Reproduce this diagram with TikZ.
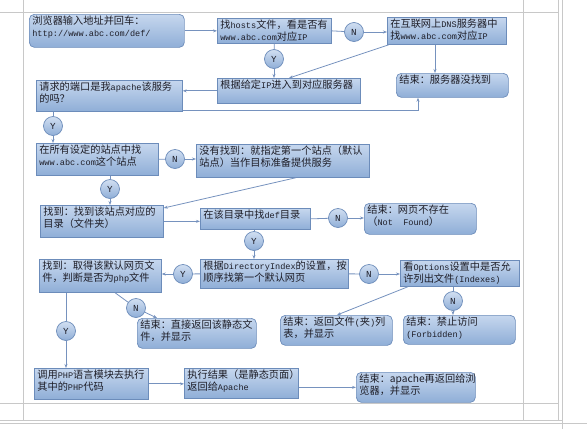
\documentclass[tikz,border=0pt]{standalone}
\usepackage{fontspec}
\setmainfont{Noto Sans CJK SC}
\newfontfamily\latf{Liberation Mono}[Scale=0.84]
\newcommand\ml[1]{{\latf #1}}
\usetikzlibrary{arrows.meta,calc,shadings}
\definecolor{boxtop}{RGB}{198,215,238}
\definecolor{boxbot}{RGB}{143,174,215}
\definecolor{boxline}{RGB}{108,140,186}
\definecolor{linec}{RGB}{118,146,190}
\definecolor{txt}{RGB}{30,30,40}
\definecolor{grid}{RGB}{200,200,200}
\tikzset{
  sqbox/.style={draw=boxline, line width=0.7pt, top color=boxtop, bottom color=boxbot, text=txt,
    font=\fontsize{10.2}{11.8}\selectfont},
  rdbox/.style={sqbox, rounded corners=5pt},
  yn/.style={circle, draw=boxline, line width=0.7pt, top color=boxtop!80!white, bottom color=boxbot,
    minimum size=19pt, inner sep=0pt, text=txt, font=\fontsize{11}{12}\latf},
  conn/.style={draw=linec, line width=0.8pt},
  arr/.style={conn, -{Stealth[length=4pt,width=3pt]}},
  gridl/.style={draw=grid, line width=0.7pt}
}
\newcommand\bx[7]{%
  \node[#2, anchor=north west, inner xsep=3pt, inner ysep=1.5pt] (#1) at (#3,#4)
  {\parbox[c][\dimexpr#6pt-3pt\relax][t]{\dimexpr#5pt-6pt\relax}{\raggedright #7}};}
\begin{document}
\begin{tikzpicture}[x=1pt,y=-1pt]
\useasboundingbox (0,0) rectangle (587,429);
% background table lines
\draw[gridl] (0,12) -- (558,12);
\draw[gridl] (23,0) -- (23,421);
\draw[gridl] (523,0) -- (523,421);
\draw[gridl] (558,0) -- (558,420);
\draw[gridl] (562,0) -- (562,429);
\draw[gridl] (0,403) -- (558,403);
\draw[gridl] (0,420) -- (562,420);
\draw[gridl] (0,423) -- (587,423);
% boxes
\bx{b1}{rdbox}{29}{14}{155}{33}{浏览器输入地址并回车：\\\ml{http://www.abc.com/def/}}
\bx{b2}{sqbox}{217}{18}{114}{25}{找\ml{hosts}文件，看是否有\\\ml{www.abc.com}对应\ml{IP}}
\bx{b3}{sqbox}{387}{17}{119}{27}{在互联网上\ml{DNS}服务器中\\找\ml{www.abc.com}对应\ml{IP}}
\bx{b4}{sqbox}{217}{78}{143}{25}{根据给定\ml{IP}进入到对应服务器}
\bx{b5}{rdbox}{396}{73}{112}{24}{结束：服务器没找到}
\bx{b6}{sqbox}{36}{80}{146}{31}{请求的端口是我\ml{apache}该服务\\的吗？}
\bx{b7}{sqbox}{36}{143}{122}{32}{在所有设定的站点中找\\\ml{www.abc.com}这个站点}
\bx{b8}{sqbox}{196}{144}{173}{33}{没有找到：就指定第一个站点（默认\\站点）当作目标准备提供服务}
\bx{b9}{sqbox}{40}{205}{123}{32}{找到：找到该站点对应的\\目录（文件夹）}
\bx{b10}{sqbox}{200}{208}{110}{21}{在该目录中找\ml{def}目录}
\bx{b11}{rdbox}{364}{203}{112}{31}{结束：网页不存在\\（\ml{Not\ \ Found}）}
\bx{b12}{sqbox}{39}{259}{122}{33}{找到：取得该默认网页文\\件，判断是否为\ml{php}文件}
\bx{b13}{sqbox}{200}{259}{148}{29}{根据\ml{DirectoryIndex}的设置，按\\顺序找第一个默认网页}
\bx{b14}{sqbox}{400}{260}{119}{26}{看\ml{Options}设置中是否允\\许列出文件\ml{(Indexes)}}
\bx{b15}{rdbox}{137}{318}{119}{30}{结束：直接返回该静态文\\件，并显示}
\bx{b16}{rdbox}{280}{315}{112}{30}{结束：返回文件\ml{(}夹\ml{)}列\\表，并显示}
\bx{b17}{rdbox}{403}{315}{112}{29}{结束：禁止访问\\\ml{(Forbidden)}}
\bx{b18}{sqbox}{34}{368}{114}{31}{调用\ml{PHP}语言模块去执行\\其中的\ml{PHP}代码}
\bx{b19}{sqbox}{184}{368}{114}{30}{执行结果（是静态页面）\\返回给\ml{Apache}}
\bx{b20}{rdbox}{356}{372}{119}{30}{结束：apache再返回给浏\\览器，并显示}
% decision circles
\node[yn] (n1) at (354,32) {N};
\node[yn] (y1) at (274,59) {Y};
\node[yn] (y2) at (53,126) {Y};
\node[yn] (n2) at (175,159) {N};
\node[yn] (y3) at (110,189) {Y};
\node[yn] (y4) at (254,241) {Y};
\node[yn] (n3) at (338,218) {N};
\node[yn] (y5) at (183,274) {Y};
\node[yn] (n4) at (369,274) {N};
\node[yn] (n5) at (136,308) {N};
\node[yn] (y6) at (66,331) {Y};
\node[yn] (n6) at (453,301) {N};
% connectors
\draw[arr] (b1.east) -- (b1.east -| b2.west);
\draw[conn] (b2.east) -- (n1);
\draw[arr] (n1) -- (n1 -| b3.west);
\draw[conn] (b2.south) -- (y1);
\draw[arr] (y1) -- (y1 |- b4.north);
\draw[arr] ($(b3.south west)+(2,0)$) -- ($(b4.north west)+(72,0)$);
\coordinate (d3) at ($(b3.south west)+(48,0)$);
\draw[arr] (d3) -- (d3 |- b5.north);
\draw[arr] (b4.west) -- (b4.west -| b6.east);
\coordinate (e5) at ($(b5.south west)+(22,0)$);
\draw[arr] ($(b6.south east)+(0,-1)$) -- ($(b6.south east -| e5)+(0,-1)$) -- (e5);
\draw[conn] (y2 |- b6.south) -- (y2);
\draw[arr] (y2) -- (y2 |- b7.north);
\draw[conn] (b7.east) -- (n2);
\draw[arr] (n2) -- (n2 -| b8.west);
\draw[conn] (y3 |- b7.south) -- (y3);
\draw[arr] (y3) -- (y3 |- b9.north);
\draw[arr] ($(b8.south west)+(100,0)$) -- ($(b9.north east)+(0,3)$);
\draw[arr] (b9.east) -- (b9.east -| b10.west);
\draw[conn] (b10.east) -- (n3);
\draw[arr] (n3) -- (n3 -| b11.west);
\draw[conn] (y4 |- b10.south) -- (y4);
\draw[arr] (y4) -- (y4 |- b13.north);
\draw[conn] (b13.west) -- (y5);
\draw[arr] (y5) -- (y5 -| b12.east);
\draw[conn] (b13.east) -- (n4);
\draw[arr] (n4) -- (n4 -| b14.west);
\draw[arr] ($(b14.south west)+(8,0)$) -- ($(b16.north west)+(57,0)$);
\draw[conn] ($(b14.south west)+(53,0)$) -- (n6);
\draw[arr] (n6) -- (n6 |- b17.north);
\draw[conn] ($(b12.south west)+(76,0)$) -- (n5);
\draw[arr] (n5) -- ($(b15.north west)+(20,0)$);
\draw[conn] (y6 |- b12.south) -- (y6);
\draw[arr] (y6) -- (y6 |- b18.north);
\draw[arr] (b18.east) -- (b18.east -| b19.west);
\draw[arr] (b19.east |- b20.west) -- (b20.west);
\end{tikzpicture}
\end{document}
